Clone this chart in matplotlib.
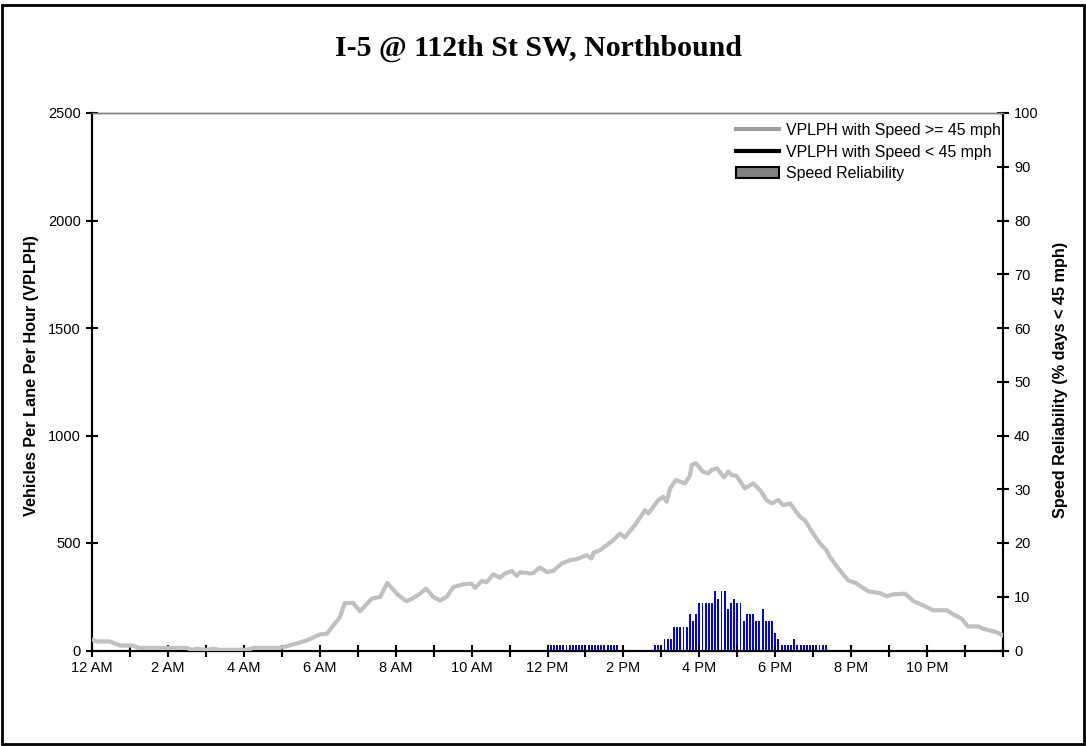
import numpy as np
import matplotlib.pyplot as plt
from matplotlib.lines import Line2D
from matplotlib.patches import Patch, Rectangle

# ---- Data ----
# traffic volume, hour of day vs vehicles per lane per hour (speed >= 45 mph)
vol_hours = [0.01, 0.12, 0.47, 0.74, 1.09, 1.22, 2.49, 2.63, 2.76, 3.02, 3.20, 3.37, 4.08, 4.25,
             4.95, 5.30, 5.66, 6.01, 6.18, 6.53, 6.66, 6.88, 7.06, 7.37, 7.59, 7.78, 8.07, 8.29,
             8.42, 8.64, 8.80, 8.99, 9.17, 9.34, 9.52, 9.78, 10.00, 10.09, 10.27, 10.40, 10.57,
             10.75, 10.88, 11.06, 11.19, 11.28, 11.54, 11.63, 11.80, 11.98, 12.15, 12.37, 12.59,
             12.77, 13.03, 13.16, 13.21, 13.38, 13.56, 13.73, 13.91, 14.04, 14.30, 14.57, 14.66,
             14.92, 15.05, 15.14, 15.23, 15.38, 15.62, 15.75, 15.80, 15.91, 16.09, 16.24, 16.32,
             16.47, 16.65, 16.76, 16.85, 16.98, 17.20, 17.42, 17.60, 17.77, 17.91, 18.08, 18.21,
             18.39, 18.65, 18.78, 19.00, 19.18, 19.35, 19.44, 19.70, 19.92, 20.14, 20.28, 20.45,
             20.76, 20.94, 21.11, 21.42, 21.64, 21.99, 22.16, 22.52, 22.69, 22.91, 23.08, 23.35,
             23.48, 23.83, 24.00]
vol_values = [50, 42, 42, 23, 23, 12, 12, 3, 8, 3, 8, 3, 3, 12,
              12, 28, 47, 75, 77, 155, 221, 221, 182, 241, 249, 314, 257, 229,
              240, 264, 288, 249, 233, 249, 295, 308, 311, 291, 323, 318, 354,
              339, 358, 370, 347, 364, 358, 361, 386, 365, 370, 404, 420,
              425, 443, 428, 454, 466, 490, 513, 544, 526, 583, 653, 638,
              700, 715, 692, 754, 793, 777, 812, 863, 871, 832, 824, 840,
              847, 805, 832, 816, 812, 754, 777, 746, 700, 684, 700, 676,
              684, 622, 606, 544, 498, 466, 435, 373, 326, 312, 295, 275,
              267, 252, 261, 264, 230, 202, 187, 187, 168, 148, 112, 112,
              101, 85, 70]

# speed reliability (% days < 45 mph), 5-minute bins
rel_midday_start = 12.0
rel_midday = [1.1] * 23
rel_pm_start = 14 + 10 / 12
rel_pm = [1.1, 1.1, 1.1, 2.2, 2.2, 2.2, 4.4, 4.4, 4.4, 4.4, 4.4, 6.7, 5.5, 6.7, 8.9,
          8.9, 8.9, 8.9, 8.9, 11.1, 9.5, 11.1, 11.1, 7.8, 8.9, 9.5, 8.9, 8.9, 5.5,
          6.7, 6.7, 6.7, 5.5, 5.5, 7.8, 5.5, 5.5, 5.5, 3.3, 2.2, 1.1, 1.1, 1.1, 1.1,
          2.2, 1.1, 1.1, 1.1, 1.1, 1.1, 1.1, 1.1, 1.1, 1.1, 1.1]

tick_labels = ['12 AM', '2 AM', '4 AM', '6 AM', '8 AM', '10 AM',
               '12 PM', '2 PM', '4 PM', '6 PM', '8 PM', '10 PM']

rel_hours = [rel_midday_start + i / 12 for i in range(len(rel_midday))] + \
            [rel_pm_start + i / 12 for i in range(len(rel_pm))]
rel_values = rel_midday + rel_pm

# ---- Plot ----
plt.rcParams['font.family'] = ['Liberation Sans', 'DejaVu Sans']
fig = plt.figure(figsize=(10.86, 7.46), dpi=100)
ax = fig.add_axes([92 / 1086, 1 - 650.5 / 746, (1003 - 92) / 1086, (650.5 - 113) / 746])
ax2 = ax.twinx()

ax2.bar(rel_hours, rel_values, width=0.05, color='#0000FF', zorder=2)
ax.plot(vol_hours, vol_values, color='#C0C0C0', lw=3.0, solid_joinstyle='round', zorder=3)
ax.set_zorder(ax2.get_zorder() + 1)
ax.patch.set_visible(False)

ax.set_xlim(0, 24)
ax.set_ylim(0, 2500)
ax2.set_ylim(0, 100)
ax.set_xticks(np.arange(0, 24, 2))
ax.set_xticklabels(tick_labels)
ax.set_xticks(np.arange(0, 25, 1), minor=True)
ax.set_yticks(np.arange(0, 2501, 500))
ax2.set_yticks(np.arange(0, 101, 10))

for a in (ax, ax2):
    a.tick_params(which='both', direction='inout', length=8, width=1.5, labelsize=10.5, colors='black')
    a.tick_params(axis='x', which='minor', length=8, width=1.5)
    for s in ('left', 'right', 'bottom'):
        a.spines[s].set_linewidth(1.5)
    a.spines['top'].set_color('#808080')
    a.spines['top'].set_linewidth(1.0)
ax.tick_params(axis='y', pad=4)
ax2.tick_params(axis='y', pad=4)

fig.text(0.4954, 1 - 48 / 746, 'I-5 @ 112th St SW, Northbound', ha='center', va='center',
         fontsize=21.5, fontweight='bold', family='Liberation Serif')
fig.text(32 / 1086, 1 - 376 / 746, 'Vehicles Per Lane Per Hour (VPLPH)', rotation=90,
         ha='center', va='center', fontsize=11.7, fontweight='bold')
fig.text(1060 / 1086, 1 - 380 / 746, 'Speed Reliability (% days < 45 mph)', rotation=90,
         ha='center', va='center', fontsize=11.7, fontweight='bold')

handles = [Line2D([], [], color='#A0A0A0', lw=3),
           Line2D([], [], color='black', lw=3),
           Patch(facecolor='#808080', edgecolor='black', lw=1.5)]
labels = ['VPLPH with Speed >= 45 mph', 'VPLPH with Speed < 45 mph', 'Speed Reliability']
fig.legend(handles, labels, loc='upper left', bbox_to_anchor=(736 / 1086, 1 - 123 / 746),
           frameon=False, fontsize=11.4, handlelength=2.7, handletextpad=0.45,
           labelspacing=0.42, borderpad=0, borderaxespad=0)

fig.patches.append(Rectangle((2 / 1086, 2 / 746), 1 - 4 / 1086, 1 - 7 / 746,
                             transform=fig.transFigure, fill=False, lw=2, edgecolor='black'))

outname = "out.png"
fig.savefig(outname, dpi=100)
print(f"Plot saved to: {outname}")
